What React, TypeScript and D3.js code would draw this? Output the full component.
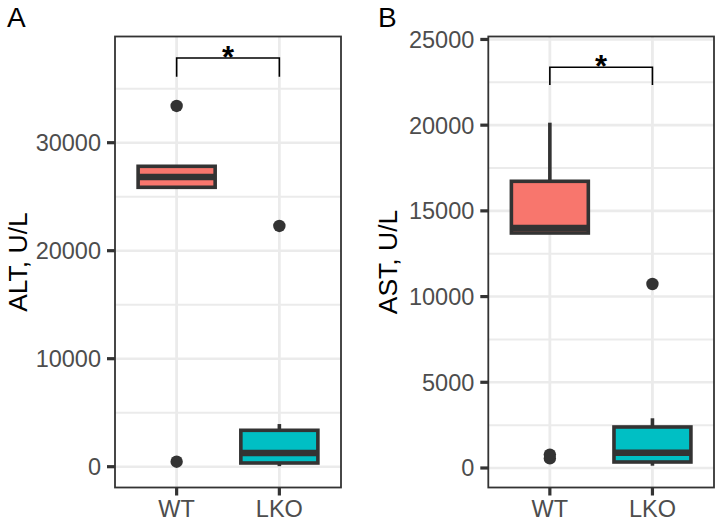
import * as d3 from "d3";

const categories = ["WT", "LKO"];
const fills = ["#F8766D", "#00BFC4"];

// ALT panel (box stats)
const altQ1 = [25870, 343];
const altMedian = [26820, 1270];
const altQ3 = [27815, 3370];
const altLower = [25870, 50];
const altUpper = [27815, 3950];
const altOutliers = [[33400, 460], [22290]];
const altTicks = [0, 10000, 20000, 30000];
const altMinor = [5000, 15000, 25000, 35000];
const altLimits = [-1926, 39833];
const altBracket = [36100, 37840];

// AST panel
const astQ1 = [13709, 350];
const astMedian = [14000, 893];
const astQ3 = [16725, 2392];
const astLower = [13709, 134];
const astUpper = [20144, 2900];
const astOutliers = [[560, 780], [10734]];
const astTicks = [0, 5000, 10000, 15000, 20000, 25000];
const astMinor = [2500, 7500, 12500, 17500, 22500];
const astLimits = [-1138, 25172];
const astBracket = [22340, 23380];

const FONT = "'Liberation Sans', Arial, Helvetica, sans-serif";
const DARK = "#333333";
const GRID = "#EBEBEB";

type PanelProps = {
  tag: string;
  title: string;
  left: number;
  right: number;
  top: number;
  bottom: number;
  limits: number[];
  ticks: number[];
  minor: number[];
  q1: number[];
  median: number[];
  q3: number[];
  lower: number[];
  upper: number[];
  outliers: number[][];
  bracket: number[];
  tagX: number;
  titleX: number;
};

function Panel(p: PanelProps) {
  const x = d3.scalePoint<string>().domain(categories).range([p.left, p.right]).padding(0.6);
  const y = d3.scaleLinear().domain(p.limits).range([p.bottom, p.top]);
  const step = x.step();
  const bw = step * 0.75;
  const x1 = x(categories[0])!;
  const x2 = x(categories[1])!;
  const bTop = y(p.bracket[1]);
  const bTip = y(p.bracket[0]);

  return (
    <g>
      <text x={p.tagX} y={27} fontSize={28} fontFamily={FONT} fill="#000">
        {p.tag}
      </text>
      <text
        transform={`translate(${p.titleX},${(p.top + p.bottom) / 2}) rotate(-90)`}
        textAnchor="middle"
        fontSize={26.5}
        fontFamily={FONT}
        fill="#000"
      >
        {p.title}
      </text>

      {/* grid */}
      {p.minor.map((v) => (
        <line key={"mn" + v} x1={p.left} x2={p.right} y1={y(v)} y2={y(v)} stroke={GRID} strokeWidth={2} />
      ))}
      {p.ticks.map((v) => (
        <line key={"mj" + v} x1={p.left} x2={p.right} y1={y(v)} y2={y(v)} stroke={GRID} strokeWidth={2.6} />
      ))}
      {categories.map((c) => (
        <line key={"vg" + c} x1={x(c)} x2={x(c)} y1={p.top} y2={p.bottom} stroke={GRID} strokeWidth={2.8} />
      ))}

      {/* boxes */}
      {categories.map((c, i) => {
        const cx = x(c)!;
        return (
          <g key={"box" + c}>
            <line x1={cx} x2={cx} y1={y(p.q3[i])} y2={y(p.upper[i])} stroke={DARK} strokeWidth={3.6} />
            <line x1={cx} x2={cx} y1={y(p.q1[i])} y2={y(p.lower[i])} stroke={DARK} strokeWidth={3.6} />
            <rect
              x={cx - bw / 2}
              width={bw}
              y={y(p.q3[i])}
              height={y(p.q1[i]) - y(p.q3[i])}
              fill={fills[i]}
              stroke={DARK}
              strokeWidth={3.6}
            />
            <line x1={cx - bw / 2} x2={cx + bw / 2} y1={y(p.median[i])} y2={y(p.median[i])} stroke={DARK} strokeWidth={6.5} />
            {p.outliers[i].map((v, k) => (
              <circle key={k} cx={cx} cy={y(v)} r={6.2} fill={DARK} />
            ))}
          </g>
        );
      })}

      {/* significance bracket */}
      <path
        d={`M${x1},${bTip}V${bTop}H${x2}V${bTip}`}
        fill="none"
        stroke="#000"
        strokeWidth={1.6}
      />
      <text
        x={(x1 + x2) / 2}
        y={bTop + 10}
        textAnchor="middle"
        fontSize={31}
        fontWeight="bold"
        fontFamily={FONT}
        fill="#000"
      >
        *
      </text>

      {/* panel border */}
      <rect
        x={p.left}
        y={p.top}
        width={p.right - p.left}
        height={p.bottom - p.top}
        fill="none"
        stroke={DARK}
        strokeWidth={1.8}
      />

      {/* y axis */}
      {p.ticks.map((v) => (
        <g key={"yt" + v}>
          <line x1={p.left - 8} x2={p.left} y1={y(v)} y2={y(v)} stroke={DARK} strokeWidth={3.2} />
          <text
            x={p.left - 14}
            y={y(v)}
            dy="0.36em"
            textAnchor="end"
            fontSize={23.5}
            fontFamily={FONT}
            fill="#4D4D4D"
          >
            {v}
          </text>
        </g>
      ))}

      {/* x axis */}
      {categories.map((c) => (
        <g key={"xt" + c}>
          <line x1={x(c)} x2={x(c)} y1={p.bottom} y2={p.bottom + 8} stroke={DARK} strokeWidth={3.2} />
          <text x={x(c)} y={p.bottom + 29} textAnchor="middle" fontSize={23.5} fontFamily={FONT} fill="#4D4D4D">
            {c}
          </text>
        </g>
      ))}
    </g>
  );
}

export default function App() {
  return (
    <svg
      width={720}
      height={523}
      style={{ position: "absolute", left: 0, top: 0, background: "#fff" }}
    >
      <rect width={720} height={523} fill="#fff" />
      <Panel
        tag="A"
        title="ALT, U/L"
        left={115}
        right={341}
        top={36.5}
        bottom={487.5}
        limits={altLimits}
        ticks={altTicks}
        minor={altMinor}
        q1={altQ1}
        median={altMedian}
        q3={altQ3}
        lower={altLower}
        upper={altUpper}
        outliers={altOutliers}
        bracket={altBracket}
        tagX={7}
        titleX={27}
      />
      <Panel
        tag="B"
        title="AST, U/L"
        left={488.3}
        right={714}
        top={36.5}
        bottom={487.5}
        limits={astLimits}
        ticks={astTicks}
        minor={astMinor}
        q1={astQ1}
        median={astMedian}
        q3={astQ3}
        lower={astLower}
        upper={astUpper}
        outliers={astOutliers}
        bracket={astBracket}
        tagX={378}
        titleX={397}
      />
    </svg>
  );
}
